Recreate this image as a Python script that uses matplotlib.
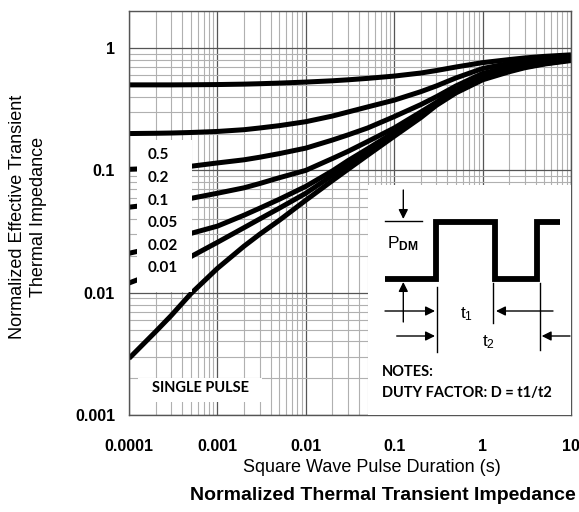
import matplotlib
matplotlib.use("Agg")
import matplotlib.pyplot as plt
from matplotlib.patches import Rectangle
from matplotlib.ticker import NullFormatter, LogLocator

plt.rcParams['mathtext.fontset'] = 'custom'
plt.rcParams['mathtext.rm'] = 'Liberation Sans'
plt.rcParams['mathtext.it'] = 'Liberation Sans'
plt.rcParams['mathtext.bf'] = 'Liberation Sans:bold'

# ---------------- data ----------------
pulse_t = [1e-4, 2e-4, 3e-4, 5e-4, 1e-3, 2e-3, 3e-3, 5e-3, 1e-2, 2e-2, 3e-2, 5e-2,
           0.1, 0.2, 0.3, 0.5, 1, 2, 3, 5, 10]
z_d050 = [0.50, 0.50, 0.50, 0.501, 0.503, 0.507, 0.511, 0.517, 0.527, 0.54, 0.55, 0.565,
          0.59, 0.625, 0.655, 0.70, 0.76, 0.805, 0.83, 0.855, 0.88]
z_d020 = [0.20, 0.201, 0.202, 0.204, 0.208, 0.215, 0.222, 0.232, 0.25, 0.278, 0.30, 0.33,
          0.375, 0.44, 0.49, 0.57, 0.68, 0.75, 0.79, 0.825, 0.86]
z_d010 = [0.102, 0.104, 0.106, 0.108, 0.115, 0.122, 0.128, 0.137, 0.152, 0.177, 0.195, 0.222,
          0.275, 0.345, 0.40, 0.49, 0.62, 0.70, 0.745, 0.79, 0.845]
z_d005 = [0.050, 0.053, 0.055, 0.059, 0.065, 0.072, 0.078, 0.087, 0.10, 0.125, 0.143, 0.172,
          0.222, 0.30, 0.36, 0.46, 0.59, 0.68, 0.72, 0.77, 0.825]
z_d002 = [0.021, 0.0235, 0.026, 0.0305, 0.035, 0.043, 0.049, 0.058, 0.074, 0.099, 0.12, 0.15,
          0.205, 0.29, 0.35, 0.45, 0.57, 0.66, 0.71, 0.755, 0.81]
z_d001 = [0.012, 0.0145, 0.0163, 0.0197, 0.0258, 0.034, 0.040, 0.049, 0.065, 0.091, 0.112, 0.142,
          0.197, 0.28, 0.345, 0.44, 0.56, 0.65, 0.70, 0.745, 0.80]
z_single = [0.0029, 0.0048, 0.0065, 0.0098, 0.0158, 0.024, 0.030, 0.039, 0.057, 0.0825, 0.102, 0.133,
            0.19, 0.27, 0.34, 0.43, 0.55, 0.64, 0.69, 0.74, 0.79]

duty_labels = ["0.5", "0.2", "0.1", "0.05", "0.02", "0.01"]
x_ticks = [1e-4, 1e-3, 1e-2, 1e-1, 1, 10]
x_tick_labels = ["0.0001", "0.001", "0.01", "0.1", "1", "10"]
y_ticks = [1e-3, 1e-2, 1e-1, 1]
y_tick_labels = ["0.001", "0.01", "0.1", "1"]

# ---------------- figure ----------------
W, H = 579, 512
fig = plt.figure(figsize=(W / 100, H / 100), dpi=100)
AX_L, AX_R, AX_T, AX_B = 129, 571, 10.7, 415
ax = fig.add_axes([AX_L / W, 1 - AX_B / H, (AX_R - AX_L) / W, (AX_B - AX_T) / H])

ax.set_xscale('log')
ax.set_yscale('log')
ax.set_xlim(1e-4, 10)
ax.set_ylim(1e-3, 2.02)

for z in [z_d050, z_d020, z_d010, z_d005, z_d002, z_d001, z_single]:
    ax.plot(pulse_t, z, color='black', lw=3.6, solid_capstyle='butt',
            solid_joinstyle='round', zorder=2)

# grid
ax.xaxis.set_minor_locator(LogLocator(base=10, subs=range(2, 10), numticks=20))
ax.yaxis.set_minor_locator(LogLocator(base=10, subs=range(2, 10), numticks=20))
ax.xaxis.set_minor_formatter(NullFormatter())
ax.yaxis.set_minor_formatter(NullFormatter())
ax.grid(True, which='major', color='#555555', lw=0.9, zorder=0)
ax.grid(True, which='minor', color='#b0b0b0', lw=0.8, zorder=0)
ax.set_axisbelow(True)

ax.set_xticks(x_ticks)
ax.set_xticklabels(x_tick_labels)
ax.set_yticks(y_ticks)
ax.set_yticklabels(y_tick_labels)
ax.tick_params(which='both', length=0)
ax.tick_params(axis='x', pad=17)
ax.tick_params(axis='y', pad=10)
for lab in ax.get_xticklabels() + ax.get_yticklabels():
    lab.set_fontfamily('Liberation Sans')
    lab.set_fontweight('bold')
    lab.set_fontsize(11.5)
for s in ax.spines.values():
    s.set_color('#555555')
    s.set_linewidth(1.0)


def P(px, py):
    return ((px - AX_L) / (AX_R - AX_L), (AX_B - py) / (AX_B - AX_T))


def rect(x0, y0, x1, y1):
    a = P(x0, y1)
    b = P(x1, y0)
    ax.add_patch(Rectangle(a, b[0] - a[0], b[1] - a[1], transform=ax.transAxes,
                           facecolor='white', edgecolor='none', zorder=3))


# white boxes
rect(137, 140, 192, 292)
rect(138, 378, 262, 402)
rect(368, 185, 571, 415)

calib = ['Lato', 'DejaVu Sans']
label_y = [155, 178.3, 200.7, 223.3, 246, 268.3]
for lab, py in zip(duty_labels, label_y):
    ax.text(*P(147.5, py), lab, transform=ax.transAxes, ha='left', va='center',
            fontsize=11, fontweight='bold', family=calib, zorder=5)

ax.text(*P(200, 388), "SINGLE PULSE", transform=ax.transAxes, ha='center', va='center',
        fontsize=10.5, fontweight='bold', family=calib, zorder=5)

# inset diagram
wx = [385, 436, 436, 495, 495, 536.7, 536.7, 560]
wy = [279.3, 279.3, 221.7, 221.7, 279.3, 279.3, 221.7, 221.7]
pts = [P(a, b) for a, b in zip(wx, wy)]
ax.plot([p[0] for p in pts], [p[1] for p in pts], color='black', lw=4.2,
        transform=ax.transAxes, zorder=4, solid_joinstyle='miter', solid_capstyle='butt')


def seg(x0, y0, x1, y1, lw=1.0):
    a, b = P(x0, y0), P(x1, y1)
    ax.plot([a[0], b[0]], [a[1], b[1]], color='black', lw=lw, transform=ax.transAxes, zorder=4)


def arrow(x0, y0, x1, y1):
    ax.annotate("", xy=P(x1, y1), xytext=P(x0, y0), xycoords='axes fraction',
                textcoords='axes fraction',
                arrowprops=dict(arrowstyle='-|>', color='black', lw=1.0,
                                mutation_scale=14, shrinkA=0, shrinkB=0), zorder=4)


seg(385, 221, 421.7, 221)
arrow(403.3, 190, 403.3, 219)
arrow(403.3, 322, 403.3, 282)
arrow(385, 311, 435, 311)
arrow(553, 311, 496, 311)
arrow(396.7, 336, 435, 336)
arrow(570, 336, 541.7, 336)
seg(436.7, 286.7, 436.7, 351.7)
seg(493.3, 283, 493.3, 323)
seg(540, 283, 540, 350)

ax.text(*P(387, 244), r"P$_{\mathbf{DM}}$", transform=ax.transAxes, ha='left', va='center',
        fontsize=12.5, family='Liberation Sans', zorder=5)
ax.text(*P(466.7, 314), r"t$_1$", transform=ax.transAxes, ha='center', va='center',
        fontsize=12.5, family='Liberation Sans', zorder=5)
ax.text(*P(488.3, 342), r"t$_2$", transform=ax.transAxes, ha='center', va='center',
        fontsize=12.5, family='Liberation Sans', zorder=5)
ax.text(*P(382, 371.7), "NOTES:", transform=ax.transAxes, ha='left', va='center',
        fontsize=10.5, fontweight='bold', family=calib, zorder=5)
ax.text(*P(382, 393.3), "DUTY FACTOR: D = t1/t2", transform=ax.transAxes, ha='left', va='center',
        fontsize=10.5, fontweight='bold', family=calib, zorder=5)

# axis titles
fig.text(18 / W, 1 - 216.7 / H, "Normalized Effective Transient", rotation=90,
         ha='center', va='center', fontsize=13, family='Liberation Sans')
fig.text(39 / W, 1 - 216.7 / H, "Thermal Impedance", rotation=90,
         ha='center', va='center', fontsize=13, family='Liberation Sans')
fig.text(372 / W, 1 - 468 / H, "Square Wave Pulse Duration (s)", ha='center', va='center',
         fontsize=13, family='Liberation Sans')
fig.text(383 / W, 1 - 495 / H, "Normalized Thermal Transient Impedance", ha='center', va='center',
         fontsize=14, fontweight='bold', family='Liberation Sans')

fig.savefig("out.png", dpi=100)
